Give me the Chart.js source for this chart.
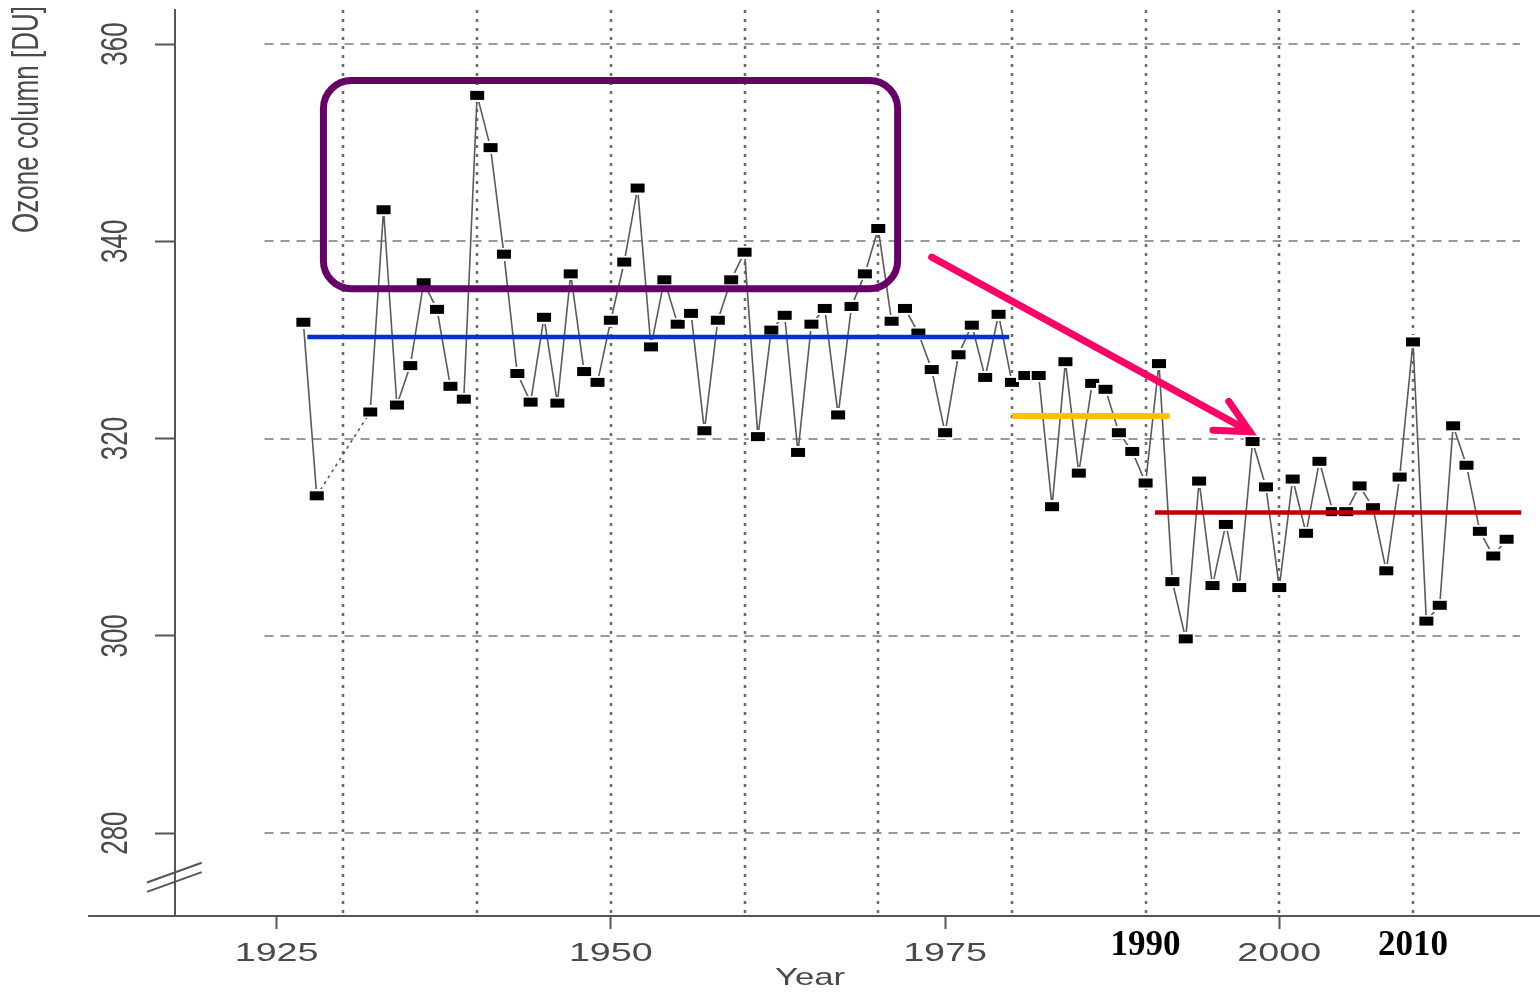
<!DOCTYPE html>
<html lang="en">
<head>
<meta charset="UTF-8">
<title>Ozone column [DU]</title>
<script src="https://cdn.jsdelivr.net/npm/chart.js@4.4.0/dist/chart.umd.min.js"></script>
<style>
  * { margin: 0; padding: 0; box-sizing: border-box; }
  html, body { background: #fff; overflow: hidden; }
  .wrap { position: relative; width: 1540px; height: 992px; }
</style>
</head>
<body>
<div class="wrap"><canvas id="chart"></canvas></div>
<script>
// yearly mean total ozone (gap 1929-1931)
const years = [1927, 1928,
  1932, 1933, 1934, 1935, 1936, 1937, 1938, 1939, 1940, 1941, 1942, 1943, 1944, 1945, 1946, 1947, 1948, 1949,
  1950, 1951, 1952, 1953, 1954, 1955, 1956, 1957, 1958, 1959, 1960, 1961, 1962, 1963, 1964, 1965, 1966, 1967, 1968, 1969,
  1970, 1971, 1972, 1973, 1974, 1975, 1976, 1977, 1978, 1979, 1980, 1981, 1982, 1983, 1984, 1985, 1986, 1987, 1988, 1989,
  1990, 1991, 1992, 1993, 1994, 1995, 1996, 1997, 1998, 1999, 2000, 2001, 2002, 2003, 2004, 2005, 2006, 2007, 2008, 2009,
  2010, 2011, 2012, 2013, 2014, 2015, 2016, 2017];
const ozone = [331.8, 314.2,
  322.7, 343.2, 323.4, 327.4, 335.8, 333.1, 325.3, 324.0, 354.8, 349.5, 338.7, 326.6, 323.7, 332.3, 323.6, 336.7, 326.8, 325.7,
  332.0, 337.9, 345.4, 329.3, 336.1, 331.6, 332.7, 320.8, 332.0, 336.1, 338.9, 320.2, 331.0, 332.5, 318.6, 331.6, 333.2, 322.4, 333.4, 336.7,
  341.3, 331.9, 333.2, 330.7, 327.0, 320.6, 328.5, 331.5, 326.2, 332.6, 325.7, 326.4, 326.4, 313.1, 327.8, 316.5, 325.6, 325.0, 320.6, 318.7,
  315.5, 327.6, 305.5, 299.7, 315.7, 305.1, 311.3, 304.9, 319.7, 315.1, 304.9, 315.9, 310.4, 317.7, 312.6, 312.6, 315.2, 313.0, 306.6, 316.1,
  329.8, 301.5, 303.1, 321.3, 317.3, 310.6, 308.1, 309.8];

const yTicks = [280, 300, 320, 340, 360];
const xTicks = [1925, 1950, 1975, 2000];
const gridYears = [1930, 1940, 1950, 1960, 1970, 1980, 1990, 2000, 2010];
const boldYears = [1990, 2010];

// period means drawn on top (data units)
const meanFrom = [1927.3, 1980.0, 1990.7];
const meanTo = [1979.8, 1991.8, 2018.1];
const meanValue = [330.3, 322.3, 312.5];
const meanColor = ['#0033cc', '#ffc000', '#c00000'];

// highlight box and arrow (data units)
const boxYears = [1928.5, 1971.45];
const boxValues = [356.3, 335.2];
const arrowYears = [1974.0, 1997.8];
const arrowValues = [338.4, 320.7];

// black rectangle marker with a small white margin (R type="b" look)
const marker = document.createElement('canvas');
marker.width = 18; marker.height = 13;
const mctx = marker.getContext('2d');
mctx.fillStyle = '#fff';
mctx.fillRect(0, 0, 18, 13);
mctx.fillStyle = '#000';
mctx.fillRect(2, 2, 14, 9);

const axisGrey = '#555';
const textGrey = '#4a4a4a';
// the original picture is stretched sideways, so is its text
const stretch = 1.45;

// keep the plot area exactly where the original has it
const noPad = s => { s.paddingTop = 0; s.paddingBottom = 0; s.paddingLeft = 0; s.paddingRight = 0; };

function wideText(ctx, text, cx, cy, rotate, align) {
  ctx.save();
  ctx.translate(cx, cy);
  ctx.scale(stretch, 1);
  if (rotate) ctx.rotate(-Math.PI / 2);
  ctx.textAlign = align || 'center';
  ctx.textBaseline = 'middle';
  ctx.fillText(text, 0, 0);
  ctx.restore();
}

const overlay = {
  id: 'overlay',
  beforeDatasetsDraw(chart) {
    const { ctx, chartArea: a, scales: { x, y } } = chart;
    ctx.save();
    // vertical dotted grid
    ctx.strokeStyle = '#6a6a6a';
    ctx.lineWidth = 2.5;
    ctx.setLineDash([3, 6]);
    gridYears.forEach(yr => {
      const px = Math.round(x.getPixelForValue(yr));
      ctx.beginPath(); ctx.moveTo(px, a.top); ctx.lineTo(px, a.bottom); ctx.stroke();
    });
    // horizontal dashed grid
    ctx.strokeStyle = '#7a7a7a';
    ctx.lineWidth = 1.6;
    ctx.setLineDash([9, 7]);
    yTicks.forEach(v => {
      const py = Math.round(y.getPixelForValue(v));
      ctx.beginPath(); ctx.moveTo(x.getPixelForValue(1924.1), py); ctx.lineTo(x.getPixelForValue(2018.0), py); ctx.stroke();
    });
    ctx.restore();
  },
  afterDraw(chart) {
    const { ctx, chartArea: a, scales: { x, y } } = chart;
    ctx.save();
    // x axis runs past the y axis, plus the axis break marks
    ctx.strokeStyle = axisGrey;
    ctx.lineWidth = 2;
    ctx.beginPath(); ctx.moveTo(x.getPixelForValue(1910.9), a.bottom); ctx.lineTo(a.left, a.bottom); ctx.stroke();
    [0, 1].forEach(i => {
      ctx.beginPath();
      ctx.moveTo(x.getPixelForValue(1915.3), y.getPixelForValue(275.0 - i * 0.95));
      ctx.lineTo(x.getPixelForValue(1919.4), y.getPixelForValue(277.0 - i * 0.95));
      ctx.stroke();
    });

    // axis text, stretched like the source image
    ctx.fillStyle = textGrey;
    ctx.font = '26px "Liberation Sans"';
    xTicks.forEach(v => wideText(ctx, String(v), x.getPixelForValue(v), a.bottom + 38));
    yTicks.forEach(v => wideText(ctx, String(v), a.left - 58, y.getPixelForValue(v), true));
    wideText(ctx, 'Ozone column [DU]', a.left - 147, y.getPixelForValue(363.85), true, 'right');
    ctx.font = '24px "Liberation Sans"';
    wideText(ctx, 'Year', x.getPixelForValue(1964.9), a.bottom + 62);

    // bold decade labels pasted on
    ctx.fillStyle = '#000';
    ctx.font = 'bold 35px "Liberation Serif"';
    ctx.textAlign = 'center';
    ctx.textBaseline = 'middle';
    boldYears.forEach(yr => ctx.fillText(String(yr), x.getPixelForValue(yr), a.bottom + 30));

    // period mean lines
    meanValue.forEach((v, i) => {
      ctx.strokeStyle = meanColor[i];
      ctx.lineWidth = i === 1 ? 6 : 4.5;
      const py = y.getPixelForValue(v);
      ctx.beginPath(); ctx.moveTo(x.getPixelForValue(meanFrom[i]), py); ctx.lineTo(x.getPixelForValue(meanTo[i]), py); ctx.stroke();
    });

    // arrow
    const x0 = x.getPixelForValue(arrowYears[0]), y0 = y.getPixelForValue(arrowValues[0]);
    const x1 = x.getPixelForValue(arrowYears[1]), y1 = y.getPixelForValue(arrowValues[1]);
    const ang = Math.atan2(y0 - y1, x0 - x1);
    ctx.strokeStyle = '#ff0066';
    ctx.lineWidth = 7;
    ctx.lineCap = 'round';
    ctx.beginPath(); ctx.moveTo(x0, y0); ctx.lineTo(x1, y1); ctx.stroke();
    ctx.beginPath();
    ctx.moveTo(x1 + 37 * Math.cos(ang + 0.46), y1 + 37 * Math.sin(ang + 0.46));
    ctx.lineTo(x1, y1);
    ctx.lineTo(x1 + 37 * Math.cos(ang - 0.46), y1 + 37 * Math.sin(ang - 0.46));
    ctx.stroke();

    // highlight box
    const bx0 = x.getPixelForValue(boxYears[0]), bx1 = x.getPixelForValue(boxYears[1]);
    const by0 = y.getPixelForValue(boxValues[0]), by1 = y.getPixelForValue(boxValues[1]);
    ctx.strokeStyle = '#660066';
    ctx.lineWidth = 7;
    ctx.beginPath();
    ctx.roundRect(bx0, by0, bx1 - bx0, by1 - by0, 28);
    ctx.stroke();
    ctx.restore();
  }
};

new Chart(document.getElementById('chart'), {
  type: 'line',
  data: {
    datasets: [{
      label: 'Ozone column',
      data: years.map((yr, i) => ({ x: yr, y: ozone[i] })),
      borderColor: '#5a5a5a',
      borderWidth: 1.6,
      tension: 0,
      pointStyle: marker,
      pointRadius: 1,
      pointBorderWidth: 0,
      segment: {
        borderDash: ctx => (ctx.p1.parsed.x - ctx.p0.parsed.x > 1 ? [3, 4] : undefined)
      }
    }]
  },
  options: {
    responsive: true,
    maintainAspectRatio: false,
    animation: false,
    devicePixelRatio: 1,
    layout: { autoPadding: false, padding: { top: 10, left: 0, right: 0, bottom: 0 } },
    plugins: { legend: { display: false }, tooltip: { enabled: false } },
    scales: {
      x: {
        type: 'linear',
        min: 1917.4,
        max: 2019.5,
        afterBuildTicks: s => { s.ticks = xTicks.map(v => ({ value: v })); },
        afterFit: s => { s.height = 76; noPad(s); },
        grid: { display: true, drawOnChartArea: false, drawTicks: true, tickLength: 13, tickColor: axisGrey, tickWidth: 2 },
        border: { display: true, color: axisGrey, width: 2 },
        ticks: { display: false }
      },
      y: {
        min: 271.6,
        max: 363.45,
        afterBuildTicks: s => { s.ticks = yTicks.map(v => ({ value: v })); },
        afterFit: s => { s.width = 175; noPad(s); },
        grid: { display: true, drawOnChartArea: false, drawTicks: true, tickLength: 20, tickColor: axisGrey, tickWidth: 2 },
        border: { display: true, color: axisGrey, width: 2 },
        ticks: { display: false }
      }
    }
  },
  plugins: [overlay]
});
</script>
</body>
</html>
